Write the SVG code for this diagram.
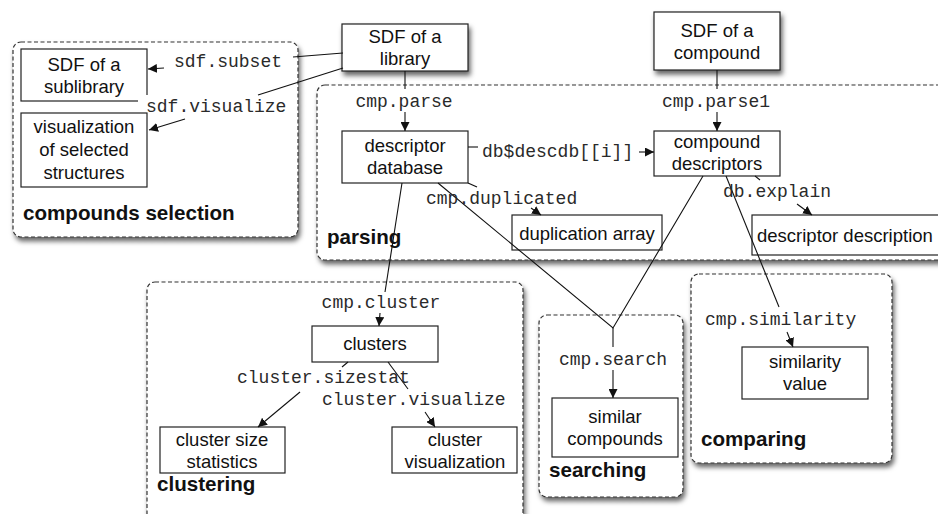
<svg xmlns="http://www.w3.org/2000/svg" width="938" height="514" viewBox="0 0 938 514">
<defs>
<filter id="sh" x="-10%" y="-10%" width="130%" height="130%">
<feDropShadow dx="2" dy="4" stdDeviation="2.5" flood-color="#000" flood-opacity="0.6"/>
</filter>
<marker id="ah" viewBox="0 0 10 10" refX="10" refY="5" markerWidth="9" markerHeight="9" markerUnits="userSpaceOnUse" orient="auto">
<path d="M0,0 L10,5 L0,10 z" fill="#111"/>
</marker>
<style>
.grp{fill:#fff;stroke:#333;stroke-width:1.2;stroke-dasharray:4,2.5}
.box{fill:#fff;stroke:#222;stroke-width:1.2}
.t{font-family:"Liberation Sans",Arial,sans-serif;font-size:18.5px;fill:#111;text-anchor:middle}
.b{font-family:"Liberation Sans",Arial,sans-serif;font-size:20.6px;font-weight:bold;fill:#111}
.m{font-family:"Liberation Mono","Courier New",monospace;font-size:18px;fill:#2a2a2a}
.c{stroke:#111;stroke-width:1.1;fill:none}
.a{stroke:#111;stroke-width:1.1;fill:none;marker-end:url(#ah)}
</style>
</defs>

<g id="groups">
<rect id="compounds-selection" class="grp" x="13" y="42" width="285" height="195" rx="8" filter="url(#sh)"/>
<rect id="parsing" class="grp" x="317" y="85" width="640" height="175" rx="8" filter="url(#sh)"/>
<rect id="clustering" class="grp" x="147" y="282" width="376" height="250" rx="8" filter="url(#sh)"/>
<rect id="searching" class="grp" x="539" y="315" width="144" height="182" rx="8" filter="url(#sh)"/>
<rect id="comparing" class="grp" x="691" y="274" width="201" height="189" rx="8" filter="url(#sh)"/>
<text class="b" x="23" y="220">compounds selection</text>
<text class="b" x="327" y="244">parsing</text>
<text class="b" x="157" y="491">clustering</text>
<text class="b" x="549" y="477">searching</text>
<text class="b" x="701" y="446">comparing</text>
</g>

<g id="n-sdf-library">
<rect class="box" x="342" y="24" width="126" height="47" filter="url(#sh)"/>
<text class="t" x="405" y="43">SDF of a</text>
<text class="t" x="405" y="65">library</text>
</g>
<g id="n-sdf-compound">
<rect class="box" x="654" y="12" width="126" height="58" filter="url(#sh)"/>
<text class="t" x="717" y="37">SDF of a</text>
<text class="t" x="717" y="59">compound</text>
</g>
<g id="n-sublibrary">
<rect class="box" x="21" y="49" width="126" height="52"/>
<text class="t" x="84" y="71">SDF of a</text>
<text class="t" x="84" y="93">sublibrary</text>
</g>
<g id="n-visualization">
<rect class="box" x="21" y="113" width="126" height="74"/>
<text class="t" x="84" y="133">visualization</text>
<text class="t" x="84" y="156">of selected</text>
<text class="t" x="84" y="179">structures</text>
</g>
<g id="n-descdb">
<rect class="box" x="342" y="131" width="126" height="52"/>
<text class="t" x="405" y="152">descriptor</text>
<text class="t" x="405" y="174">database</text>
</g>
<g id="n-compdesc">
<rect class="box" x="654" y="131" width="126" height="45"/>
<text class="t" x="717" y="148">compound</text>
<text class="t" x="717" y="170">descriptors</text>
</g>
<g id="n-duparray">
<rect class="box" x="512" y="215" width="150" height="35"/>
<text class="t" x="587" y="240">duplication array</text>
</g>
<g id="n-descdesc">
<rect class="box" x="752" y="215" width="200" height="40"/>
<text class="t" x="757" y="242" style="text-anchor:start">descriptor description</text>
</g>
<g id="n-clusters">
<rect class="box" x="312" y="326" width="126" height="36"/>
<text class="t" x="375" y="350">clusters</text>
</g>
<g id="n-sizestat">
<rect class="box" x="160" y="427" width="125" height="46"/>
<text class="t" x="222" y="446">cluster size</text>
<text class="t" x="222" y="468">statistics</text>
</g>
<g id="n-clustervis">
<rect class="box" x="392" y="427" width="125" height="46"/>
<text class="t" x="455" y="446">cluster</text>
<text class="t" x="455" y="468">visualization</text>
</g>
<g id="n-similar">
<rect class="box" x="552" y="398" width="126" height="59"/>
<text class="t" x="615" y="423">similar</text>
<text class="t" x="615" y="445">compounds</text>
</g>
<g id="n-simvalue">
<rect class="box" x="742" y="347" width="126" height="52"/>
<text class="t" x="805" y="368">similarity</text>
<text class="t" x="805" y="390">value</text>
</g>

<g id="connectors">
<line class="c" x1="343" y1="53" x2="293" y2="57"/>
<line class="a" x1="164" y1="68" x2="148" y2="69"/>
<line class="c" x1="343" y1="68" x2="258" y2="95"/>
<line class="a" x1="185" y1="119" x2="149" y2="130"/>
<line class="c" x1="405" y1="71" x2="405" y2="89"/>
<line class="a" x1="405" y1="112" x2="405" y2="131"/>
<line class="c" x1="717" y1="70" x2="717" y2="89"/>
<line class="a" x1="717" y1="112" x2="717" y2="131"/>
<line class="c" x1="468" y1="147" x2="478" y2="147"/>
<line class="a" x1="639" y1="152" x2="654" y2="152"/>
<line class="c" x1="468" y1="183" x2="477" y2="187"/>
<line class="a" x1="531" y1="208" x2="541" y2="215"/>
<line class="c" x1="755" y1="176" x2="760" y2="180"/>
<line class="a" x1="797" y1="204" x2="812" y2="215"/>
<line class="c" x1="402" y1="183" x2="385" y2="292"/>
<line class="a" x1="380" y1="313" x2="379" y2="326"/>
<polyline class="c" points="438,183 613,328 703,176"/>
<line class="c" x1="613" y1="328" x2="613" y2="347"/>
<line class="a" x1="613" y1="370" x2="613" y2="398"/>
<line class="c" x1="726" y1="176" x2="779" y2="307"/>
<line class="a" x1="787" y1="332" x2="793" y2="347"/>
<line class="c" x1="348" y1="362" x2="342" y2="367"/>
<line class="a" x1="300" y1="392" x2="258" y2="427"/>
<line class="c" x1="388" y1="362" x2="408" y2="389"/>
<line class="a" x1="425" y1="412" x2="435" y2="427"/>
</g>

<g id="labels">
<rect x="138" y="95" width="12" height="12" fill="#fff"/>
<text class="m" x="174" y="67">sdf.subset</text>
<text class="m" x="146" y="112">sdf.visualize</text>
<text class="m" x="404" y="107" text-anchor="middle">cmp.parse</text>
<text class="m" x="716" y="107" text-anchor="middle">cmp.parse1</text>
<text class="m" x="482" y="157">db$descdb[[i]]</text>
<text class="m" x="426" y="204">cmp.duplicated</text>
<text class="m" x="723" y="197">db.explain</text>
<text class="m" x="381" y="308" text-anchor="middle">cmp.cluster</text>
<text class="m" x="613" y="365" text-anchor="middle">cmp.search</text>
<text class="m" x="705" y="325">cmp.similarity</text>
<text class="m" x="237" y="383">cluster.sizestat</text>
<text class="m" x="322" y="405">cluster.visualize</text>
</g>
</svg>
